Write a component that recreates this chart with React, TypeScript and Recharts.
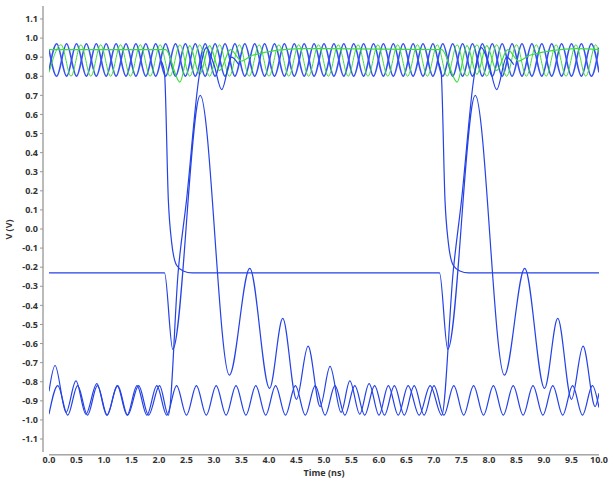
import { LineChart, Line, XAxis, YAxis, ReferenceLine } from "recharts";

type Pt = { t: number; v: number };

// tick labels
const xTicks = [0, 0.5, 1, 1.5, 2, 2.5, 3, 3.5, 4, 4.5, 5, 5.5, 6, 6.5, 7, 7.5, 8, 8.5, 9, 9.5, 10];
const yTicks = [
  -1.1, -1.0, -0.9, -0.8, -0.7, -0.6, -0.5, -0.4, -0.3, -0.2, -0.1, 0, 0.1, 0.2, 0.3, 0.4, 0.5, 0.6,
  0.7, 0.8, 0.9, 1.0, 1.1,
];

// high band, read at each peak / trough (ns)
const topTimes = [
  0, 0.14, 0.32, 0.5, 0.68, 0.86, 1.04, 1.22, 1.4, 1.58, 1.76, 1.94, 2.12, 2.3, 2.48, 2.66, 2.84,
  3.02, 3.2, 3.38, 3.56, 3.74, 3.92, 4.1, 4.28, 4.46, 4.64, 4.82, 5.0, 5.18, 5.36, 5.54, 5.72, 5.9,
  6.08, 6.26, 6.44, 6.62, 6.8, 6.98, 7.16, 7.34, 7.52, 7.7, 7.88, 8.06, 8.24, 8.42, 8.6, 8.78, 8.96,
  9.14, 9.32, 9.5, 9.68, 9.86, 10,
];
const topA = [
  0.83, 0.97, 0.8, 0.97, 0.8, 0.97, 0.8, 0.97, 0.8, 0.97, 0.8, 0.97, 0.8, 0.97, 0.8, 0.97, 0.8,
  0.97, 0.8, 0.97, 0.8, 0.97, 0.8, 0.97, 0.8, 0.97, 0.8, 0.97, 0.8, 0.97, 0.8, 0.97, 0.8, 0.97,
  0.8, 0.97, 0.8, 0.97, 0.8, 0.97, 0.8, 0.97, 0.8, 0.97, 0.8, 0.97, 0.8, 0.97, 0.8, 0.97, 0.8,
  0.97, 0.8, 0.97, 0.8, 0.97, 0.82,
];
const topB = [
  0.94, 0.8, 0.97, 0.8, 0.97, 0.8, 0.97, 0.8, 0.97, 0.8, 0.97, 0.8, 0.97, 0.8, 0.97, 0.8, 0.97,
  0.8, 0.97, 0.8, 0.97, 0.8, 0.97, 0.8, 0.97, 0.8, 0.97, 0.8, 0.97, 0.8, 0.97, 0.8, 0.97, 0.8,
  0.97, 0.8, 0.97, 0.8, 0.97, 0.8, 0.97, 0.8, 0.97, 0.8, 0.97, 0.8, 0.97, 0.8, 0.97, 0.8, 0.97,
  0.8, 0.97, 0.8, 0.97, 0.8, 0.95,
];

const greenTimes = [
  0, 0.22, 0.4, 0.58, 0.76, 0.94, 1.12, 1.3, 1.48, 1.66, 1.84, 2.02, 2.2, 2.38, 2.56, 2.74, 2.92,
  3.1, 3.28, 3.46, 3.64, 3.82, 4.0, 4.18, 4.36, 4.54, 4.72, 4.9, 5.08, 5.26, 5.44, 5.62, 5.8, 5.98,
  6.16, 6.34, 6.52, 6.7, 6.88, 7.06, 7.24, 7.42, 7.6, 7.78, 7.96, 8.14, 8.32, 8.5, 8.68, 8.86, 9.04,
  9.22, 9.4, 9.58, 9.76, 9.94, 10,
];
const greenTop = [
  0.82, 0.965, 0.8, 0.965, 0.8, 0.965, 0.8, 0.965, 0.8, 0.965, 0.8, 0.965, 0.8, 0.965, 0.8, 0.965,
  0.8, 0.965, 0.8, 0.965, 0.8, 0.965, 0.8, 0.965, 0.8, 0.965, 0.8, 0.965, 0.8, 0.965, 0.8, 0.965,
  0.8, 0.965, 0.8, 0.965, 0.8, 0.965, 0.8, 0.965, 0.8, 0.965, 0.8, 0.965, 0.8, 0.965, 0.8, 0.965,
  0.8, 0.965, 0.8, 0.965, 0.8, 0.965, 0.8, 0.965, 0.92,
];

const greenFlat = [
  [0, 0.94], [2.12, 0.94], [2.38, 0.77], [2.56, 0.96], [2.74, 0.81], [2.92, 0.96], [3.1, 0.83],
  [3.3, 0.94], [3.5, 0.88], [3.7, 0.91], [4.6, 0.945], [7.14, 0.94], [7.42, 0.77], [7.6, 0.96],
  [7.78, 0.81], [7.96, 0.96], [8.14, 0.83], [8.34, 0.94], [8.54, 0.88], [8.74, 0.91], [9.6, 0.945],
  [10, 0.94],
];

// low band
const bottomTimes = [
  0, 0.16, 0.34, 0.52, 0.7, 0.88, 1.06, 1.24, 1.42, 1.6, 1.78, 1.96, 2.14, 2.32, 2.5, 2.68, 2.86,
  3.04, 3.22, 3.4, 3.58, 3.76, 3.94, 4.12, 4.3, 4.48, 4.66, 4.84, 5.02, 5.2, 5.38, 5.56, 5.74, 5.92,
  6.1, 6.28, 6.46, 6.64, 6.82, 7.0, 7.18, 7.36, 7.54, 7.72, 7.9, 8.08, 8.26, 8.44, 8.62, 8.8, 8.98,
  9.16, 9.34, 9.52, 9.7, 9.88, 10,
];
const bottomP = [
  -0.97, -0.82, -0.975, -0.82, -0.975, -0.82, -0.975, -0.82, -0.975, -0.82, -0.975, -0.82, -0.975,
  -0.82, -0.975, -0.82, -0.975, -0.82, -0.975, -0.82, -0.975, -0.82, -0.975, -0.82, -0.975, -0.82,
  -0.975, -0.82, -0.975, -0.82, -0.975, -0.82, -0.975, -0.82, -0.975, -0.82, -0.975, -0.82,
  -0.975, -0.82, -0.975, -0.82, -0.975, -0.82, -0.975, -0.82, -0.975, -0.82, -0.975, -0.82,
  -0.975, -0.82, -0.975, -0.82, -0.975, -0.82, -0.935,
];

// flat -0.23, ringing after 2.1 ns, settling low, rising at 7.2 ns
const ringA = [
  [0, -0.23], [2.1, -0.23], [2.25, -0.63], [2.75, 0.7], [3.28, -0.765], [3.65, -0.206],
  [4.01, -0.835], [4.25, -0.468], [4.5, -0.892], [4.71, -0.613], [4.93, -0.93], [5.11, -0.72],
  [5.31, -0.96], [5.47, -0.795], [5.65, -0.97], [5.82, -0.81], [6.0, -0.975], [6.17, -0.82],
  [6.35, -0.975], [6.53, -0.82], [6.73, -0.975], [6.93, -0.82], [7.14, -0.975], [7.35, -0.22],
  [7.5, 0.15], [7.73, 0.8], [7.86, 0.95], [8.0, 0.86], [8.14, 0.73], [8.32, 0.9], [8.45, 0.86],
];

// ringing tail at the left, settling low, rising at 2.2 ns
const ringB = [
  [0, -0.85], [0.11, -0.715], [0.31, -0.96], [0.49, -0.795], [0.67, -0.97], [0.87, -0.81],
  [1.05, -0.975], [1.25, -0.82], [1.43, -0.975], [1.63, -0.82], [1.81, -0.975], [2.01, -0.82],
  [2.17, -0.975], [2.35, -0.22], [2.5, 0.15], [2.73, 0.8], [2.86, 0.95], [3.0, 0.86], [3.14, 0.73],
  [3.32, 0.9], [3.45, 0.86],
];

// high until 2.1 ns, falls to -0.23, ringing after 7.1 ns
const fallA = [
  [2.04, 0.88], [2.1, 0.82], [2.17, 0.15], [2.23, -0.07], [2.32, -0.19], [2.44, -0.22], [2.6, -0.23],
  [7.1, -0.23], [7.25, -0.63], [7.75, 0.7], [8.28, -0.765], [8.65, -0.206], [9.01, -0.835],
  [9.25, -0.468], [9.5, -0.892], [9.71, -0.613], [9.93, -0.93], [10, -0.86],
];

// high until 7.1 ns, falls to -0.23
const fallB = [
  [7.06, 0.88], [7.13, 0.82], [7.2, 0.15], [7.26, -0.07], [7.35, -0.19], [7.47, -0.22],
  [7.63, -0.23], [10, -0.23],
];

const zip = (ts: number[], vs: number[]): Pt[] => ts.map((t, i) => ({ t, v: vs[i] }));
const pairs = (arr: number[][]): Pt[] => arr.map(([t, v]) => ({ t, v }));

const BLUE = "#2442e6";
const BAND_BLUE = "#3552ee";
const GREEN = "#3ddc3d";
const FONT = "'Open Sans', 'DejaVu Sans', sans-serif";
const tickStyle = { fill: "#333", fontSize: 9, fontWeight: 700, fontFamily: FONT };

export default function App() {
  const series: { data: Pt[]; color: string; width: number }[] = [
    { data: zip(topTimes, topA), color: BAND_BLUE, width: 1.6 },
    { data: zip(topTimes, topB), color: BAND_BLUE, width: 1.6 },
    { data: zip(greenTimes, greenTop), color: GREEN, width: 1 },
    { data: pairs(greenFlat), color: GREEN, width: 1.2 },
    { data: zip(bottomTimes, bottomP), color: BLUE, width: 1.2 },
    { data: pairs(ringA), color: BLUE, width: 1.2 },
    { data: pairs(ringB), color: BLUE, width: 1.2 },
    { data: pairs(fallA), color: BLUE, width: 1.2 },
    { data: pairs(fallB), color: BLUE, width: 1.2 },
  ];

  const labelStyle = {
    position: "absolute" as const,
    width: 100,
    textAlign: "center" as const,
    fontFamily: FONT,
    fontSize: 9,
    lineHeight: "9px",
    fontWeight: 700,
    color: "#333",
  };

  return (
    <div style={{ position: "absolute", left: 0, top: 0, width: 611, height: 479, background: "#fff" }}>
      <LineChart width={611} height={479} margin={{ top: 6, right: 12, bottom: 0, left: 0 }}>
        <XAxis
          type="number"
          dataKey="t"
          domain={[0, 10]}
          ticks={xTicks}
          padding={{ left: 6, right: 0 }}
          tickFormatter={(v: number) => v.toFixed(1)}
          tick={tickStyle}
          axisLine={false}
          tickLine={false}
          tickSize={4}
          tickMargin={1}
          height={27}
          allowDataOverflow
        />
        <YAxis
          type="number"
          domain={[-1.168, 1.168]}
          ticks={yTicks}
          tickFormatter={(v: number) => v.toFixed(1)}
          tick={tickStyle}
          axisLine={{ stroke: "#777" }}
          tickLine={{ stroke: "#999" }}
          tickSize={3}
          tickMargin={2}
          width={43}
          allowDataOverflow
        />
        <ReferenceLine
          segment={[
            { x: 0, y: -1.183 },
            { x: 10, y: -1.183 },
          ]}
          stroke="#777"
          ifOverflow="visible"
        />
        {series.map((s, i) => (
          <Line
            key={i}
            data={s.data}
            dataKey="v"
            type="monotone"
            stroke={s.color}
            strokeWidth={s.width}
            dot={false}
            activeDot={false}
            isAnimationActive={false}
          />
        ))}
      </LineChart>
      <div style={{ ...labelStyle, left: 274, top: 468 }}>Time (ns)</div>
      <div style={{ ...labelStyle, left: -42, top: 225, transform: "rotate(-90deg)" }}>V (V)</div>
    </div>
  );
}
